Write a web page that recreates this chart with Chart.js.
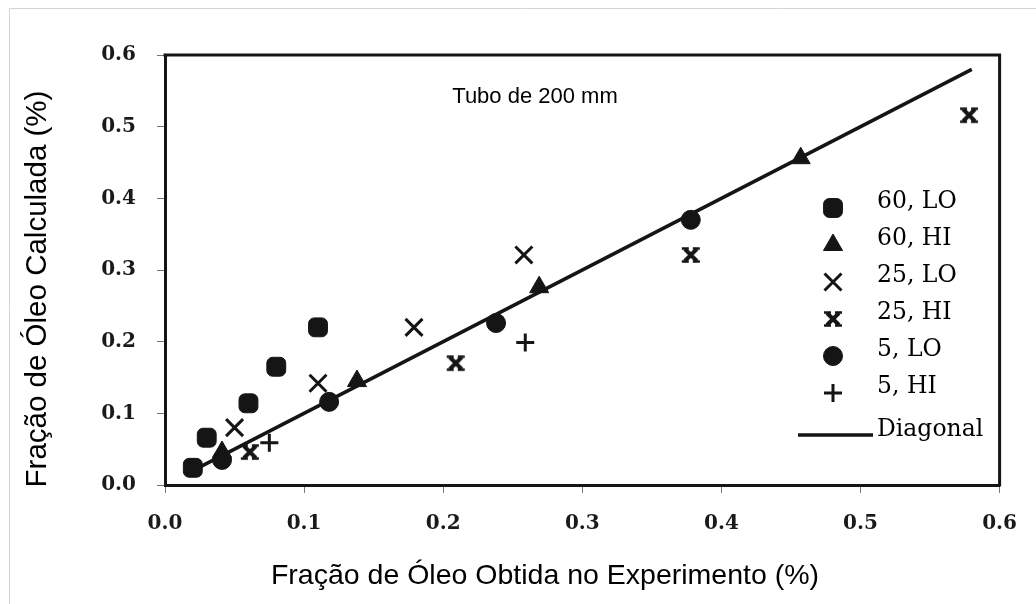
<!DOCTYPE html>
<html>
<head>
<meta charset="utf-8">
<script src="https://cdn.jsdelivr.net/npm/chart.js@4"></script>
<style>
  html, body { margin: 0; padding: 0; background: #fff; }
  #wrap { width: 1036px; height: 604px; position: relative; }
</style>
</head>
<body>
<div id="wrap"><canvas id="c" width="1036" height="604"></canvas></div>
<script>
// ---- data ----
const seriesLabels = ['60, LO', '60, HI', '25, LO', '25, HI', '5, LO', '5, HI', 'Diagonal'];
const s60LO = [[0.020, 0.024], [0.030, 0.066], [0.060, 0.114], [0.080, 0.165], [0.110, 0.220]];
const s60HI = [[0.041, 0.046], [0.138, 0.145], [0.269, 0.276], [0.457, 0.456]];
const s25LO = [[0.050, 0.080], [0.110, 0.142], [0.179, 0.220], [0.258, 0.321]];
const s25HI = [[0.061, 0.046], [0.209, 0.170], [0.378, 0.321], [0.578, 0.516]];
const s5LO  = [[0.041, 0.035], [0.118, 0.116], [0.238, 0.226], [0.378, 0.370]];
const s5HI  = [[0.075, 0.059], [0.259, 0.199]];
const diagonal = [[0.02, 0.02], [0.58, 0.58]];
const xTickValues = [0, 0.1, 0.2, 0.3, 0.4, 0.5, 0.6];
const xTickLabels = ['0.0', '0.1', '0.2', '0.3', '0.4', '0.5', '0.6'];
const yTickValues = [0, 0.1, 0.2, 0.3, 0.4, 0.5, 0.6];
const yTickLabels = ['0.0', '0.1', '0.2', '0.3', '0.4', '0.5', '0.6'];
const xTitle = 'Fração de Óleo Obtida no Experimento (%)';
const yTitle = 'Fração de Óleo Calculada (%)';
const innerNote = 'Tubo de 200 mm';

const INK = '#151515';
const toXY = arr => arr.map(p => ({x: p[0], y: p[1]}));

// custom marker for "25, HI": bold X with small horizontal serifs at the tips
function makeHiCross(size) {
  const cv = document.createElement('canvas');
  cv.width = size; cv.height = size;
  const g = cv.getContext('2d');
  g.strokeStyle = INK; g.lineWidth = 4; g.lineCap = 'butt';
  const a = 4, b = size - 4;
  g.beginPath();
  g.moveTo(a, a); g.lineTo(b, b);
  g.moveTo(b, a); g.lineTo(a, b);
  g.stroke();
  g.lineWidth = 2.6;
  g.beginPath();
  g.moveTo(a - 3, a - 0.5); g.lineTo(a + 4, a - 0.5);
  g.moveTo(b - 4, a - 0.5); g.lineTo(b + 3, a - 0.5);
  g.moveTo(a - 3, b + 0.5); g.lineTo(a + 4, b + 0.5);
  g.moveTo(b - 4, b + 0.5); g.lineTo(b + 3, b + 0.5);
  g.stroke();
  return cv;
}
const hiCross = makeHiCross(20);

const styles = [
  {pointStyle: 'rectRounded', radius: 11, borderWidth: 1, fill: true},
  {pointStyle: 'triangle', radius: 11, borderWidth: 1, fill: true},
  {pointStyle: 'crossRot', radius: 12, borderWidth: 3, fill: false},
  {pointStyle: hiCross, radius: 10, borderWidth: 1, fill: false},
  {pointStyle: 'circle', radius: 9.5, borderWidth: 1, fill: true},
  {pointStyle: 'cross', radius: 9, borderWidth: 3, fill: false}
];
const seriesData = [s60LO, s60HI, s25LO, s25HI, s5LO, s5HI];

const datasets = seriesData.map((d, i) => ({
  label: seriesLabels[i],
  data: toXY(d),
  showLine: false,
  pointStyle: styles[i].pointStyle,
  pointRadius: styles[i].radius,
  pointBorderWidth: styles[i].borderWidth,
  pointBackgroundColor: INK,
  pointBorderColor: INK
}));
datasets.push({
  label: seriesLabels[6],
  data: toXY(diagonal),
  showLine: true,
  borderColor: INK,
  borderWidth: 3.5,
  pointRadius: 0,
  fill: false
});

const framePlugin = {
  id: 'frameAndText',
  beforeDraw(chart) {
    const ctx = chart.ctx;
    ctx.save();
    ctx.fillStyle = '#fff';
    ctx.fillRect(0, 0, chart.width, chart.height);
    ctx.strokeStyle = '#d4d4d4';
    ctx.lineWidth = 1;
    ctx.beginPath();
    ctx.moveTo(9.5, 604); ctx.lineTo(9.5, 8.5); ctx.lineTo(1036, 8.5);
    ctx.stroke();
    ctx.restore();
  },
  afterDraw(chart) {
    const ctx = chart.ctx;
    const ca = chart.chartArea;
    ctx.save();
    ctx.strokeStyle = INK;
    ctx.lineWidth = 3;
    ctx.beginPath();
    ctx.moveTo(ca.left - 1.5, ca.top);
    ctx.lineTo(ca.right, ca.top);
    ctx.lineTo(ca.right, ca.bottom + 1.5);
    ctx.stroke();

    ctx.fillStyle = '#000';
    ctx.textAlign = 'center';
    ctx.textBaseline = 'middle';
    ctx.font = '28.5px "Liberation Sans", Arial, sans-serif';
    ctx.fillText(xTitle, 545, 576);
    ctx.save();
    ctx.translate(38, 289);
    ctx.rotate(-Math.PI / 2);
    ctx.font = '29.5px "Liberation Sans", Arial, sans-serif';
    ctx.fillText(yTitle, 0, 0);
    ctx.restore();

    ctx.font = '22px "Liberation Sans", Arial, sans-serif';
    ctx.fillText(innerNote, 535, 97);

    // legend
    const rowY = [208, 245, 282, 319, 356, 393];
    const mx = 833, tx = 877;
    ctx.font = '23.5px "DejaVu Serif", serif';
    ctx.textAlign = 'left';
    ctx.textBaseline = 'middle';
    chart.data.datasets.forEach((ds, i) => {
      if (i >= 6) return;
      const st = styles[i];
      ctx.fillStyle = INK;
      ctx.strokeStyle = INK;
      ctx.lineWidth = st.borderWidth;
      Chart.helpers.drawPoint(ctx, {pointStyle: st.pointStyle, radius: st.radius, rotation: 0, borderWidth: st.borderWidth}, mx, rowY[i]);
      ctx.fillStyle = '#000';
      ctx.fillText(ds.label, tx, rowY[i] - 6);
    });
    ctx.strokeStyle = INK;
    ctx.lineWidth = 3.5;
    ctx.beginPath();
    ctx.moveTo(798, 435); ctx.lineTo(873, 435);
    ctx.stroke();
    ctx.fillStyle = '#000';
    ctx.fillText(seriesLabels[6], tx, 430);
    ctx.restore();
  }
};

new Chart(document.getElementById('c'), {
  type: 'scatter',
  data: {datasets},
  options: {
    responsive: false,
    devicePixelRatio: 1,
    animation: false,
    layout: {padding: {left: 0, top: 55, right: 34, bottom: 0}},
    plugins: {legend: {display: false}, tooltip: {enabled: false}, title: {display: false}},
    scales: {
      x: {
        type: 'linear', min: 0, max: 0.6,
        afterFit(s) { s.height = 119; },
        afterBuildTicks(s) { s.ticks = xTickValues.map(v => ({value: v})); },
        ticks: {
          callback: (v, i) => xTickLabels[i],
          font: {family: '"DejaVu Serif", serif', size: 20, weight: 'bold'},
          color: '#1a1a1a', padding: 19, maxRotation: 0
        },
        grid: {drawOnChartArea: false, drawTicks: true, tickLength: 8, color: '#777', lineWidth: 1},
        border: {display: true, color: INK, width: 3}
      },
      y: {
        type: 'linear', min: 0, max: 0.6,
        afterFit(s) { s.width = 165; },
        afterBuildTicks(s) { s.ticks = yTickValues.map(v => ({value: v})); },
        ticks: {
          callback: (v, i) => yTickLabels[i],
          font: {family: '"DejaVu Serif", serif', size: 20, weight: 'bold'},
          color: '#1a1a1a', padding: 21
        },
        grid: {drawOnChartArea: false, drawTicks: true, tickLength: 8, color: '#777', lineWidth: 1},
        border: {display: true, color: INK, width: 3}
      }
    }
  },
  plugins: [framePlugin]
});
</script>
</body>
</html>
